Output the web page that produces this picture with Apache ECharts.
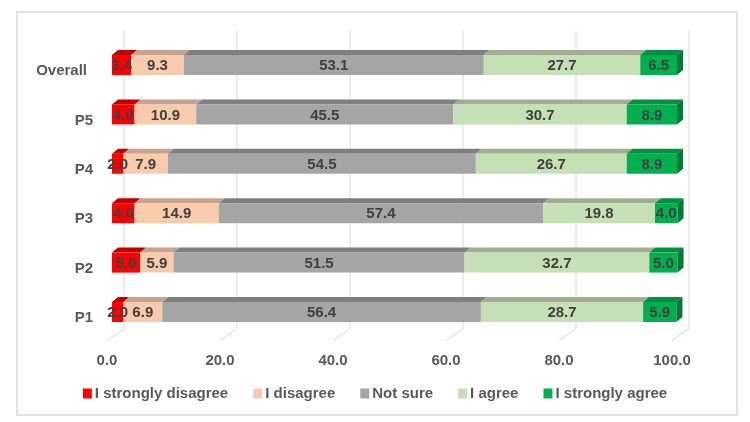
<!DOCTYPE html>
<html>
<head>
<meta charset="utf-8">
<script src="https://cdn.jsdelivr.net/npm/echarts@6/dist/echarts.min.js"></script>
<style>
  html, body { margin: 0; padding: 0; background: #fff; }
  #main { width: 750px; height: 422px; }
</style>
</head>
<body>
<div id="main"></div>
<script>
// categories bottom -> top, as the y category axis lays them out
const categories = ['P1', 'P2', 'P3', 'P4', 'P5', 'Overall']
const stronglyDisagree = [2.0, 5.0, 4.0, 2.0, 4.0, 3.4]
const disagree = [6.9, 5.9, 14.9, 7.9, 10.9, 9.3]
const notSure = [56.4, 51.5, 57.4, 54.5, 45.5, 53.1]
const agree = [28.7, 32.7, 19.8, 26.7, 30.7, 27.7]
const stronglyAgree = [5.9, 5.0, 4.0, 8.9, 8.9, 6.5]
const gridTicks = [0, 20, 40, 60, 80, 100]

const levels = [
  { name: 'I strongly disagree', values: stronglyDisagree, front: '#FF0000', top: '#C00000', side: '#B00000' },
  { name: 'I disagree', values: disagree, front: '#F8CBAD', top: '#C7A28C', side: '#C7A28C' },
  { name: 'Not sure', values: notSure, front: '#A5A5A5', top: '#7F7F7F', side: '#7F7F7F' },
  { name: 'I agree', values: agree, front: '#C5E0B4', top: '#A0AF93', side: '#A0AF93' },
  { name: 'I strongly agree', values: stronglyAgree, front: '#00B050', top: '#00903F', side: '#007A35' }
]

const FONT = '"Liberation Sans", Arial, sans-serif'
const DX = 6, DY = 5, BAR_H = 20, SHIFT = 5

// running totals so each segment knows where it starts
const starts = categories.map(() => 0)
const series = []

series.push({
  type: 'custom',
  name: 'grid',
  silent: true,
  z: 0,
  data: gridTicks.map(v => [v]),
  encode: { x: 0 },
  renderItem: (params, api) => {
    const cs = params.coordSys
    const x = api.coord([api.value(0), 0])[0]
    const bottom = cs.y + cs.height
    return {
      type: 'polyline',
      shape: { points: [[x + 17, cs.y - 10], [x + 17, bottom - 8], [x, bottom + 4]] },
      style: { stroke: '#D9D9D9', lineWidth: 1, fill: null }
    }
  }
})

levels.forEach((lv, li) => {
  const isLast = li === levels.length - 1
  const data = lv.values.map((v, ci) => {
    const s = starts[ci]
    starts[ci] += v
    return [ci, s, s + v, v]
  })
  series.push({
    type: 'custom',
    name: lv.name,
    z: 2,
    itemStyle: { color: lv.front },
    encode: { x: [1, 2], y: 0 },
    data,
    renderItem: (params, api) => {
      const p0 = api.coord([api.value(1), api.value(0)])
      const p1 = api.coord([api.value(2), api.value(0)])
      const x = p0[0] + SHIFT
      const w = p1[0] - p0[0]
      const y = p0[1] - BAR_H / 2
      const children = [
        {
          type: 'polygon',
          shape: { points: [[x, y], [x + w, y], [x + w + DX, y - DY], [x + DX, y - DY]] },
          style: { fill: lv.top }
        },
        {
          type: 'rect',
          shape: { x, y, width: w, height: BAR_H },
          style: { fill: lv.front }
        }
      ]
      if (isLast) {
        children.push({
          type: 'polygon',
          shape: { points: [[x + w, y], [x + w + DX, y - DY], [x + w + DX, y + BAR_H - DY], [x + w, y + BAR_H]] },
          style: { fill: lv.side }
        })
      }
      return { type: 'group', children }
    }
  })
})

// value labels on their own series so they sit above every segment
const labelData = []
const acc = categories.map(() => 0)
levels.forEach(lv => {
  lv.values.forEach((v, ci) => {
    labelData.push([acc[ci] + v / 2, ci, v])
    acc[ci] += v
  })
})
series.push({
  type: 'custom',
  name: 'labels',
  silent: true,
  z: 5,
  encode: { x: 0, y: 1 },
  data: labelData,
  renderItem: (params, api) => {
    const p = api.coord([api.value(0), api.value(1)])
    return {
      type: 'text',
      style: {
        x: p[0] + SHIFT,
        y: p[1] + 1,
        text: api.value(2).toFixed(1),
        align: 'center',
        verticalAlign: 'middle',
        fill: '#404040',
        font: 'bold 15px ' + FONT
      }
    }
  }
})

const chart = echarts.init(document.getElementById('main'))
chart.setOption({
  animation: false,
  textStyle: { fontFamily: FONT },
  graphic: [{
    type: 'rect',
    shape: { x: 17, y: 12, width: 720, height: 403 },
    style: { fill: null, stroke: '#D9D9D9', lineWidth: 1.5 },
    silent: true
  }],
  grid: { left: 107, right: 78, top: 40.3, bottom: 85.3 },
  xAxis: {
    type: 'value',
    min: 0,
    max: 100,
    interval: 20,
    axisLine: { show: false },
    axisTick: { show: false },
    splitLine: { show: false },
    axisLabel: {
      margin: 17,
      color: '#595959',
      fontWeight: 'bold',
      fontSize: 15,
      formatter: v => v.toFixed(1)
    }
  },
  yAxis: {
    type: 'category',
    data: categories,
    axisLine: { show: false },
    axisTick: { show: false },
    splitLine: { show: false },
    axisLabel: {
      margin: 14,
      color: '#595959',
      fontWeight: 'bold',
      fontSize: 15,
      padding: [12, 0, 0, 0],
      formatter: v => v === 'Overall' ? '{o|' + v + '}' : v,
      rich: { o: { padding: [0, 6, 0, 0], color: '#595959', fontWeight: 'bold', fontSize: 15 } }
    }
  },
  legend: {
    data: levels.map(l => l.name),
    top: 381,
    left: 'center',
    icon: 'rect',
    itemWidth: 9,
    itemHeight: 10,
    itemGap: 25,
    textStyle: { color: '#595959', fontWeight: 'bold', fontSize: 15, padding: [0, 0, 0, -2] }
  },
  series
})
</script>
</body>
</html>
